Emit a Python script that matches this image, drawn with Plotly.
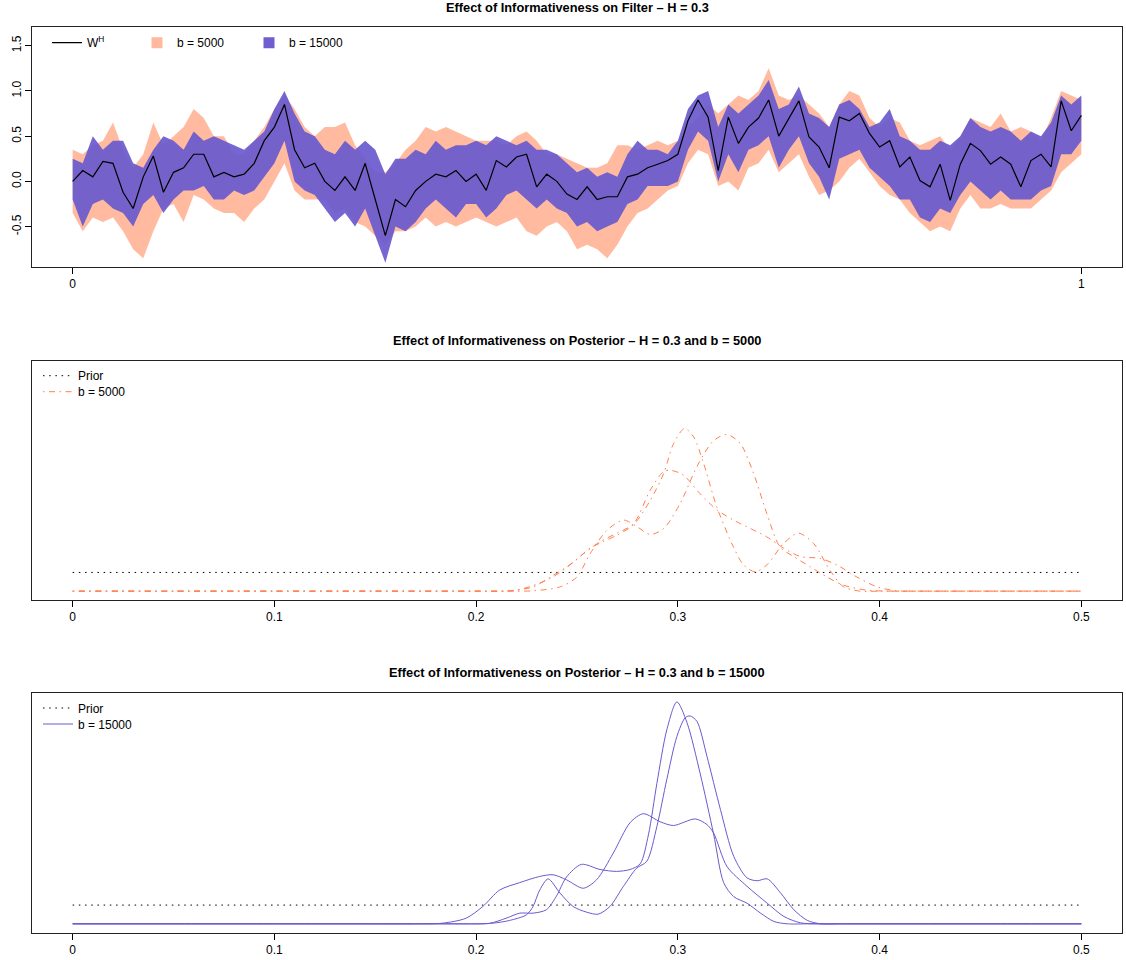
import numpy as np
import plotly.graph_objects as go

# ---------------- data: top panel (filter) ----------------
t_grid = np.linspace(0, 1, 101)

w_path = [0.0, 0.12, 0.05, 0.22, 0.2, -0.12, -0.3, 0.05, 0.28, -0.12,
          0.1, 0.15, 0.3, 0.3, 0.05, 0.1, 0.05, 0.08, 0.2, 0.45,
          0.6, 0.85, 0.35, 0.15, 0.2, 0.0, -0.1, 0.05, -0.1, 0.2,
          -0.2, -0.6, -0.2, -0.28, -0.1, 0.0, 0.08, 0.05, 0.12, 0.0,
          0.08, -0.1, 0.23, 0.16, 0.27, 0.3, -0.06, 0.08, 0.0, -0.14,
          -0.2, -0.06, -0.2, -0.17, -0.17, 0.05, 0.08, 0.15, 0.19, 0.23,
          0.3, 0.67, 0.9, 0.71, 0.12, 0.71, 0.42, 0.6, 0.7, 0.9,
          0.5, 0.7, 0.89, 0.49, 0.38, 0.15, 0.71, 0.67, 0.75, 0.53,
          0.38, 0.45, 0.16, 0.27, 0.01, -0.06, 0.19, -0.21, 0.19, 0.42,
          0.34, 0.19, 0.27, 0.19, -0.06, 0.23, 0.3, 0.16, 0.89, 0.56,
          0.73]

b15000_upper = [0.25, 0.2, 0.5, 0.35, 0.45, 0.45, 0.2, 0.15, 0.35, 0.5,
                0.45, 0.35, 0.55, 0.45, 0.5, 0.45, 0.4, 0.35, 0.45, 0.55,
                0.8, 1.0, 0.75, 0.55, 0.5, 0.35, 0.3, 0.45, 0.35, 0.45,
                0.35, 0.08, 0.25, 0.25, 0.35, 0.3, 0.45, 0.35, 0.4, 0.4,
                0.45, 0.4, 0.5, 0.45, 0.4, 0.45, 0.35, 0.35, 0.3, 0.2,
                0.1, 0.15, 0.05, 0.1, 0.05, 0.3, 0.45, 0.35, 0.35, 0.3,
                0.45, 0.8, 0.95, 1.0, 0.6, 0.85, 0.75, 0.85, 0.95, 1.12,
                0.8, 0.85, 1.05, 0.75, 0.7, 0.6, 0.85, 0.9, 0.8, 0.6,
                0.65, 0.8, 0.5, 0.45, 0.35, 0.35, 0.45, 0.4, 0.5, 0.7,
                0.6, 0.55, 0.6, 0.55, 0.45, 0.55, 0.5, 0.65, 0.95, 0.85,
                0.95]

b15000_lower = [-0.2, -0.5, -0.25, -0.2, -0.3, -0.35, -0.5, -0.25, -0.15, -0.35,
                -0.2, -0.1, -0.1, -0.05, -0.2, -0.2, -0.1, -0.15, -0.1, 0.05,
                0.2, 0.45, 0.0, -0.1, -0.15, -0.3, -0.45, -0.35, -0.5, -0.3,
                -0.6, -0.9, -0.5, -0.55, -0.45, -0.3, -0.2, -0.3, -0.4, -0.25,
                -0.25, -0.4, -0.3, -0.15, -0.1, -0.2, -0.3, -0.2, -0.3, -0.35,
                -0.5, -0.45, -0.55, -0.5, -0.45, -0.25, -0.2, -0.05, -0.05, -0.05,
                0.0, 0.35, 0.55, 0.45, 0.0, 0.3, 0.1, 0.35, 0.4, 0.5,
                0.15, 0.35, 0.5, 0.2, 0.05, -0.2, 0.25, 0.3, 0.35, 0.15,
                0.05, -0.05, -0.2, -0.2, -0.4, -0.45, -0.3, -0.35, -0.15, 0.0,
                -0.1, -0.2, -0.1, -0.2, -0.2, -0.2, -0.1, -0.05, 0.3, 0.3,
                0.45]

b5000_upper = [0.35, 0.3, 0.4, 0.45, 0.65, 0.35, 0.15, 0.3, 0.65, 0.4,
               0.5, 0.6, 0.8, 0.7, 0.5, 0.5, 0.3, 0.3, 0.45, 0.6,
               0.8, 0.95, 0.8, 0.6, 0.5, 0.6, 0.6, 0.65, 0.4, 0.25,
               0.1, 0.1, 0.2, 0.35, 0.45, 0.6, 0.55, 0.6, 0.55, 0.5,
               0.45, 0.45, 0.45, 0.4, 0.5, 0.55, 0.45, 0.3, 0.3, 0.25,
               0.2, 0.15, 0.15, 0.2, 0.4, 0.4, 0.35, 0.4, 0.45, 0.4,
               0.45, 0.6, 0.7, 0.85, 0.75, 0.85, 0.95, 0.9, 1.0, 1.25,
               0.95, 0.9, 0.95, 0.85, 0.75, 0.6, 0.85, 1.0, 0.95, 0.7,
               0.6, 0.7, 0.65, 0.45, 0.4, 0.45, 0.5, 0.35, 0.5, 0.7,
               0.65, 0.6, 0.75, 0.55, 0.6, 0.55, 0.45, 0.7, 1.0, 0.95,
               0.9]

b5000_lower = [-0.35, -0.55, -0.4, -0.45, -0.4, -0.55, -0.75, -0.85, -0.55, -0.3,
               -0.25, -0.45, -0.15, -0.2, -0.3, -0.35, -0.35, -0.45, -0.3, -0.2,
               0.0, 0.2, -0.1, -0.2, -0.2, -0.2, -0.35, -0.3, -0.45, -0.5,
               -0.6, -0.7, -0.55, -0.55, -0.5, -0.4, -0.5, -0.45, -0.5, -0.45,
               -0.4, -0.45, -0.5, -0.45, -0.4, -0.55, -0.6, -0.5, -0.45, -0.55,
               -0.75, -0.7, -0.75, -0.85, -0.7, -0.5, -0.35, -0.3, -0.2, -0.1,
               -0.05, 0.2, 0.35, 0.3, -0.05, 0.0, -0.1, 0.15, 0.2, 0.35,
               0.1, 0.2, 0.3, 0.05, -0.15, -0.1, 0.0, 0.15, 0.25, 0.1,
               -0.05, -0.15, -0.2, -0.35, -0.45, -0.55, -0.5, -0.55, -0.3, -0.15,
               -0.3, -0.3, -0.25, -0.3, -0.3, -0.3, -0.2, -0.1, 0.1, 0.2,
               0.3]

top_xticks = [0, 1]
top_yticks = [-0.5, 0.0, 0.5, 1.0, 1.5]
top_yticklabels = ["-0.5", "0.0", "0.5", "1.0", "1.5"]

# ---------------- data: posterior densities ----------------
prior_x = [0.0, 0.5]
prior_y = [2.0, 2.0]

b5000_post_x = [
    [0, 0.05, 0.1, 0.15, 0.19, 0.2, 0.22, 0.2367, 0.2483, 0.2565, 0.263, 0.27, 0.278,
     0.2863, 0.293, 0.2979, 0.3033, 0.3078, 0.3127, 0.3193, 0.3276, 0.3326, 0.3383,
     0.3441, 0.3524, 0.3598, 0.3673, 0.3755, 0.3821, 0.3904, 0.40, 0.42, 0.45, 0.48, 0.5],
    [0, 0.05, 0.1, 0.15, 0.2, 0.215, 0.2284, 0.2417, 0.2499, 0.2565, 0.2648, 0.2731,
     0.2797, 0.2863, 0.293, 0.3012, 0.3094, 0.3177, 0.3243, 0.3309, 0.3375, 0.3441,
     0.3507, 0.3574, 0.3656, 0.374, 0.382, 0.3937, 0.405, 0.42, 0.45, 0.48, 0.5],
    [0, 0.05, 0.1, 0.15, 0.19, 0.205, 0.2169, 0.2284, 0.2367, 0.245, 0.2532, 0.2615,
     0.2698, 0.278, 0.2863, 0.293, 0.297, 0.3028, 0.3111, 0.3193, 0.3276, 0.3359,
     0.3441, 0.3524, 0.3607, 0.3706, 0.3788, 0.3888, 0.3987, 0.4086, 0.42, 0.44,
     0.47, 0.5],
]
b5000_post_y = [
    [0, 0, 0, 0, 0, 0, 0.1, 1.35, 3.1, 4.6, 5.3, 6.0, 7.1, 9.7, 12.6, 15.8, 17.4,
     16.5, 13.7, 9.0, 4.7, 2.8, 2.07, 2.8, 5.1, 6.2, 5.1, 2.2, 0.46, 0, 0, 0, 0, 0, 0],
    [0, 0, 0, 0, 0, 0, 0.04, 0.46, 1.5, 4.0, 6.5, 7.6, 6.9, 6.06, 6.7, 9.4, 13.3,
     16.1, 16.75, 15.8, 12.6, 8.3, 4.7, 3.7, 2.6, 1.5, 0.64, 0.1, 0, 0, 0, 0, 0],
    [0, 0, 0, 0, 0, 0, 0.04, 0.46, 1.5, 2.6, 4.0, 5.3, 6.2, 7.2, 10.8, 12.8, 12.9,
     12.4, 10.4, 8.7, 7.6, 6.7, 5.8, 4.6, 3.7, 3.5, 2.8, 1.5, 0.46, 0.04, 0, 0, 0, 0],
]

b15000_post_x = [
    [0, 0.05, 0.1, 0.15, 0.18, 0.195, 0.2066, 0.2149, 0.2216, 0.2282, 0.2348, 0.2398,
     0.2448, 0.2522, 0.2614, 0.2697, 0.2763, 0.2813, 0.2854, 0.2896, 0.2945, 0.2995,
     0.3045, 0.3111, 0.3177, 0.3227, 0.3277, 0.3343, 0.341, 0.3476, 0.3542, 0.365,
     0.38, 0.42, 0.46, 0.5],
    [0, 0.05, 0.1, 0.15, 0.185, 0.2, 0.2083, 0.2166, 0.2249, 0.2282, 0.2315, 0.2357,
     0.2415, 0.2481, 0.2547, 0.2605, 0.2663, 0.273, 0.2796, 0.2846, 0.2896, 0.2945,
     0.2995, 0.3036, 0.3061, 0.3095, 0.3144, 0.3211, 0.3277, 0.3343, 0.3393, 0.3443,
     0.3509, 0.3575, 0.3642, 0.3708, 0.38, 0.42, 0.46, 0.5],
    [0, 0.05, 0.1, 0.14, 0.17, 0.1834, 0.195, 0.2033, 0.2116, 0.2216, 0.2315, 0.2381,
     0.2448, 0.2531, 0.2597, 0.268, 0.2763, 0.2829, 0.2912, 0.2978, 0.3086, 0.3144,
     0.3177, 0.3244, 0.3343, 0.3443, 0.3526, 0.3609, 0.37, 0.385, 0.42, 0.46, 0.5],
]
b15000_post_y = [
    [0, 0, 0, 0, 0, 0, 0.05, 0.6, 1.14, 1.14, 1.5, 2.95, 5.0, 6.35, 5.8, 5.6, 5.8,
     6.4, 9.5, 15.0, 20.7, 23.7, 21.5, 16.0, 9.6, 4.4, 2.9, 2.2, 1.14, 0.25, 0, 0, 0,
     0, 0, 0],
    [0, 0, 0, 0, 0, 0, 0.07, 0.36, 0.96, 1.85, 3.6, 4.8, 3.3, 1.85, 1.25, 1.03, 1.85,
     4.0, 5.95, 6.67, 10.4, 15.4, 20.0, 22.0, 22.2, 21.6, 17.9, 12.2, 7.2, 4.9, 4.6,
     4.8, 3.3, 1.5, 0.36, 0, 0, 0, 0, 0],
    [0, 0, 0, 0, 0, 0.07, 0.6, 1.85, 3.6, 4.4, 5.06, 5.24, 4.7, 3.8, 4.7, 7.56, 10.8,
     11.76, 10.9, 10.5, 11.2, 10.6, 9.7, 6.1, 4.0, 2.2, 0.78, 0.1, 0, 0, 0, 0, 0],
]

post_xticks = [0, 0.1, 0.2, 0.3, 0.4, 0.5]
post_xticklabels = ["0", "0.1", "0.2", "0.3", "0.4", "0.5"]

# ---------------- styling ----------------
FONT = "Liberation Sans, Arial, Helvetica, sans-serif"
SALMON_FILL = "rgba(255,160,122,0.72)"
SALMON_SOLID = "#FFB99C"
PURPLE_FILL = "rgba(106,90,205,0.93)"
PURPLE_SOLID = "#6E5ECF"
CORAL = "#FF7F50"
SLATE = "#6A5ACD"
DOT = "1.5px,4.7px"
DOTDASH = "1.5px,4.5px,6px,4.5px"

W, H = 1126, 960
x0, x1 = 32.3, 1121.7
xdom = [x0 / W, x1 / W]


def ydom(top_px, bot_px):
    return [1 - bot_px / H, 1 - top_px / H]


fig = go.Figure()

# top panel bands
fig.add_trace(go.Scatter(x=t_grid, y=b5000_lower, mode="lines", line=dict(width=0),
                         showlegend=False, hoverinfo="skip", xaxis="x", yaxis="y"))
fig.add_trace(go.Scatter(x=t_grid, y=b5000_upper, mode="lines", line=dict(width=0),
                         fill="tonexty", fillcolor=SALMON_FILL, showlegend=False,
                         hoverinfo="skip", xaxis="x", yaxis="y"))
fig.add_trace(go.Scatter(x=t_grid, y=b15000_lower, mode="lines", line=dict(width=0),
                         showlegend=False, hoverinfo="skip", xaxis="x", yaxis="y"))
fig.add_trace(go.Scatter(x=t_grid, y=b15000_upper, mode="lines", line=dict(width=0),
                         fill="tonexty", fillcolor=PURPLE_FILL, showlegend=False,
                         hoverinfo="skip", xaxis="x", yaxis="y"))
fig.add_trace(go.Scatter(x=t_grid, y=w_path, mode="lines", name="W<sup>H</sup>",
                         line=dict(color="black", width=1.2), xaxis="x", yaxis="y",
                         legend="legend"))
# legend-only square keys for the bands
fig.add_trace(go.Scatter(x=[None], y=[None], mode="markers", name="b = 5000",
                         marker=dict(symbol="square", size=11, color=SALMON_SOLID),
                         xaxis="x", yaxis="y", legend="legend2"))
fig.add_trace(go.Scatter(x=[None], y=[None], mode="markers", name="b = 15000",
                         marker=dict(symbol="square", size=11, color=PURPLE_SOLID),
                         xaxis="x", yaxis="y", legend="legend3"))

# middle panel
fig.add_trace(go.Scatter(x=prior_x, y=prior_y, mode="lines", name="Prior",
                         line=dict(color="black", width=1, dash=DOT),
                         xaxis="x2", yaxis="y2", legend="legend4"))
for i, (xs, ys) in enumerate(zip(b5000_post_x, b5000_post_y)):
    fig.add_trace(go.Scatter(x=xs, y=ys, mode="lines", name="b = 5000",
                             line=dict(color=CORAL, width=1, dash=DOTDASH,
                                       shape="spline", smoothing=0.8),
                             showlegend=(i == 0), xaxis="x2", yaxis="y2",
                             legend="legend5"))

# bottom panel
fig.add_trace(go.Scatter(x=prior_x, y=prior_y, mode="lines", name="Prior",
                         line=dict(color="black", width=1, dash=DOT),
                         xaxis="x3", yaxis="y3", legend="legend6"))
for i, (xs, ys) in enumerate(zip(b15000_post_x, b15000_post_y)):
    fig.add_trace(go.Scatter(x=xs, y=ys, mode="lines", name="b = 15000",
                             line=dict(color=SLATE, width=1, shape="spline",
                                       smoothing=0.8),
                             showlegend=(i == 0), xaxis="x3", yaxis="y3",
                             legend="legend7"))

axis_common = dict(showline=True, mirror=True, linecolor="#222222", linewidth=1,
                   showgrid=False, zeroline=False,
                   tickfont=dict(family=FONT, size=12, color="black"))

dens_range = [-0.948, 24.648]

fig.update_layout(
    width=W, height=H,
    margin=dict(l=0, r=0, t=0, b=0),
    paper_bgcolor="white", plot_bgcolor="white",
    font=dict(family=FONT, size=12, color="black"),
    xaxis=dict(domain=xdom, range=[-0.04, 1.04], anchor="y",
               tickmode="array", tickvals=top_xticks, ticktext=["0", "1"],
               ticks="outside", ticklen=6, tickcolor="black", **axis_common),
    yaxis=dict(domain=ydom(27.3, 266.7), range=[-0.943, 1.703], anchor="x",
               tickmode="array", tickvals=top_yticks, ticktext=top_yticklabels,
               tickangle=-90, ticks="outside", ticklen=6, tickcolor="black",
               **axis_common),
    xaxis2=dict(domain=xdom, range=[-0.02, 0.52], anchor="y2",
                tickmode="array", tickvals=post_xticks, ticktext=post_xticklabels,
                ticks="outside", ticklen=6, tickcolor="black", **axis_common),
    yaxis2=dict(domain=ydom(360.7, 600), range=dens_range, anchor="x2",
                showticklabels=False, ticks="", **axis_common),
    xaxis3=dict(domain=xdom, range=[-0.02, 0.52], anchor="y3",
                tickmode="array", tickvals=post_xticks, ticktext=post_xticklabels,
                ticks="outside", ticklen=6, tickcolor="black", **axis_common),
    yaxis3=dict(domain=ydom(693, 932.7), range=dens_range, anchor="x3",
                showticklabels=False, ticks="", **axis_common),
)

legend_common = dict(bgcolor="rgba(0,0,0,0)", borderwidth=0, xanchor="left",
                     yanchor="middle", font=dict(family=FONT, size=12, color="black"))
fig.update_layout(
    legend=dict(x=47 / W, y=1 - 42.7 / H, **legend_common),
    legend2=dict(x=137 / W, y=1 - 42.7 / H, **legend_common),
    legend3=dict(x=249 / W, y=1 - 42.7 / H, **legend_common),
    legend4=dict(x=38 / W, y=1 - 375.7 / H, **legend_common),
    legend5=dict(x=38 / W, y=1 - 391.7 / H, **legend_common),
    legend6=dict(x=38 / W, y=1 - 708 / H, **legend_common),
    legend7=dict(x=38 / W, y=1 - 724 / H, **legend_common),
)

xc = (x0 + x1) / 2 / W
titles = [("Effect of Informativeness on Filter \u2013 H = 0.3", 7),
          ("Effect of Informativeness on Posterior \u2013 H = 0.3 and b = 5000", 340),
          ("Effect of Informativeness on Posterior \u2013 H = 0.3 and b = 15000", 672)]
for text, py in titles:
    fig.add_annotation(x=xc, y=1 - py / H, xref="paper", yref="paper", text=f"<b>{text}</b>",
                       showarrow=False, xanchor="center", yanchor="middle",
                       font=dict(family=FONT, size=12.8, color="black"))

fig.write_html("out.html")
